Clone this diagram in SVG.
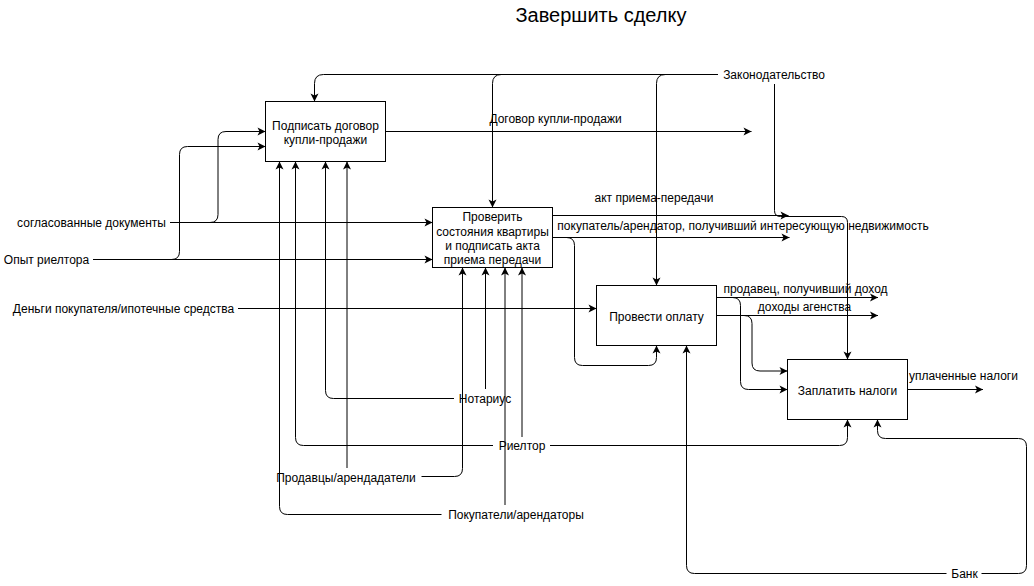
<svg xmlns="http://www.w3.org/2000/svg" width="1034" height="586" viewBox="0 0 1034 586">
<defs>
<marker id="arr" markerUnits="userSpaceOnUse" markerWidth="10" markerHeight="10" refX="8" refY="4" orient="auto" overflow="visible">
<path d="M0,0 L8,4 L0,8 L2,4 Z" fill="#000"/>
</marker>
<style>
.t{font-family:"Liberation Sans",Arial,sans-serif;font-size:12px;fill:#000;text-anchor:middle}
.box{fill:#fff;stroke:#000;stroke-width:1}
.c{fill:none;stroke:#000;stroke-width:1}
.a{marker-end:url(#arr)}
</style>
</defs>
<rect width="1034" height="586" fill="#fff"/>
<text class="t" x="601" y="22" style="font-size:20px">Завершить сделку</text>

<g id="connectors">
<path class="c a" d="M718,74.5 H323.5 Q314.5,74.5 314.5,83.5 V101.5"/>
<path class="c a" d="M718,74.5 H501.5 Q492.5,74.5 492.5,83.5 V207.5"/>
<path class="c a" d="M718,74.5 H665.5 Q656.5,74.5 656.5,83.5 V285.5"/>
<path class="c a" d="M774.5,84 V210.5 Q774.5,216.5 780.5,216.5 H841.5 Q847.5,216.5 847.5,222.5 V359.5"/>
<path class="c a" d="M385.5,131.5 H751.5"/>
<path class="c a" d="M170,222.5 H432.5"/>
<path class="c a" d="M210,222.5 Q218,222.5 218,214.5 V139.5 Q218,131.5 226,131.5 H265.5"/>
<path class="c a" d="M93,259.5 H432.5"/>
<path class="c a" d="M171.5,259.5 Q179.5,259.5 179.5,251.5 V154.5 Q179.5,146.5 187.5,146.5 H265.5"/>
<path class="c a" d="M238,308.5 H596.5"/>
<path class="c a" d="M552.5,215.5 H788.5"/>
<path class="c a" d="M552.5,237.5 H789.5"/>
<path class="c a" d="M552.5,237.5 H566.5 Q574.5,237.5 574.5,245.5 V357.5 Q574.5,365.5 582.5,365.5 H648.5 Q656.5,365.5 656.5,357.5 V345.5"/>
<path class="c a" d="M716.5,297.5 H878"/>
<path class="c a" d="M716.5,315.5 H878"/>
<path class="c a" d="M716.5,297.5 H732.5 Q740.5,297.5 740.5,305.5 V381.5 Q740.5,389.5 748.5,389.5 H787.5"/>
<path class="c a" d="M716.5,315.5 H744 Q752,315.5 752,323.5 V363 Q752,371 760,371 H787.5"/>
<path class="c a" d="M907.5,389.5 H983"/>
<path class="c a" d="M441.5,514.5 H287.5 Q279.5,514.5 279.5,506.5 V161.5"/>
<path class="c a" d="M505,505 V267.5"/>
<path class="c a" d="M493,445.5 H303.5 Q295.5,445.5 295.5,437.5 V161.5"/>
<path class="c a" d="M522,437 V267.5"/>
<path class="c a" d="M550,445.5 H839.5 Q847.5,445.5 847.5,437.5 V419.5"/>
<path class="c a" d="M454,398.5 H333.5 Q325.5,398.5 325.5,390.5 V161.5"/>
<path class="c a" d="M485.5,389 V267.5"/>
<path class="c a" d="M347,468 V161.5"/>
<path class="c a" d="M421.5,476.5 H454.5 Q462.5,476.5 462.5,468.5 V267.5"/>
<path class="c a" d="M946.5,573.5 H694.5 Q686.5,573.5 686.5,565.5 V345.5"/>
<path class="c a" d="M981.5,573.5 H1018.5 Q1026.5,573.5 1026.5,565.5 V446.5 Q1026.5,438.5 1018.5,438.5 H885.5 Q877.5,438.5 877.5,430.5 V419.5"/>
</g>

<g id="labels">
<text class="t" x="774" y="79">Законодательство</text>
<text class="t" x="555.5" y="123">Договор купли-продажи</text>
<text class="t" x="654" y="202">акт приема-передачи</text>
<text class="t" x="743" y="230">покупатель/арендатор, получивший интересующую недвижимость</text>
<text class="t" x="805.5" y="292.5">продавец, получивший доход</text>
<text class="t" x="804.5" y="311">доходы агенства</text>
<text class="t" x="963.5" y="380">уплаченные налоги</text>
<text class="t" x="964.5" y="578">Банк</text>
<text class="t" x="485" y="403">Нотариус</text>
<text class="t" x="522" y="450">Риелтор</text>
<text class="t" x="346" y="481.5">Продавцы/арендадатели</text>
<text class="t" x="516" y="519">Покупатели/арендаторы</text>
<text class="t" x="91.5" y="227">согласованные документы</text>
<text class="t" x="46.5" y="264">Опыт риелтора</text>
<text class="t" x="123.5" y="313">Деньги покупателя/ипотечные средства</text>
</g>

<g id="node1">
<rect class="box" x="265.5" y="101.5" width="120" height="60"/>
<text class="t" x="325.5" y="129.5">Подписать договор</text>
<text class="t" x="325.5" y="144">купли-продажи</text>
</g>
<g id="node2">
<rect class="box" x="432.5" y="207.5" width="120" height="60"/>
<text class="t" x="492.5" y="221">Проверить</text>
<text class="t" x="492.5" y="235.5">состояния квартиры</text>
<text class="t" x="492.5" y="249.5">и подписать акта</text>
<text class="t" x="492.5" y="263.5">приема передачи</text>
</g>
<g id="node3">
<rect class="box" x="596.5" y="285.5" width="120" height="60"/>
<text class="t" x="656.5" y="321">Провести оплату</text>
</g>
<g id="node4">
<rect class="box" x="787.5" y="359.5" width="120" height="60"/>
<text class="t" x="847.5" y="395">Заплатить налоги</text>
</g>
</svg>
